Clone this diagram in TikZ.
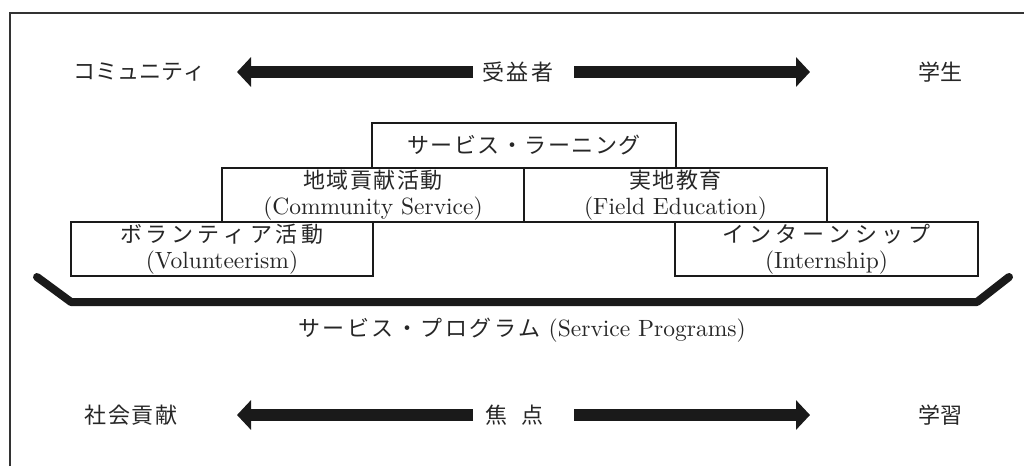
\documentclass[tikz,border=0pt]{standalone}
\usepackage{fontspec}
\setmainfont{lmroman10-regular.otf}
\newfontfamily\jp{Noto Sans CJK JP}
\usetikzlibrary{arrows.meta}
\definecolor{ink}{HTML}{1A1A1A}
\definecolor{txt}{HTML}{262626}
\definecolor{frame}{HTML}{333333}
% tracked Japanese text: \jpt{gap}{text}
\makeatletter
\def\trk@loop#1{\ifx#1\relax\unskip\else#1\hspace{\trk@gap}\expandafter\trk@loop\fi}
\newcommand{\jpt}[2]{{\jp\fontsize{22}{25}\selectfont\def\trk@gap{#1}\trk@loop#2\relax}}
\makeatother
\begin{document}
\begin{tikzpicture}[x=1pt,y=-1pt,
  lbl/.style={inner sep=0pt, text=txt, font=\fontsize{22}{25}\selectfont, align=center},
  box/.style={draw=ink, line width=1.8pt, inner sep=0pt, text=txt,
     font=\fontsize{23.5}{26}\selectfont, align=center},
  fat/.style={draw=ink, line width=12pt, -{Triangle[length=14pt,width=29pt]}},
]
\useasboundingbox (0,0) rectangle (1024,466);
% frame (only top and left visible)
\draw[frame, line width=2pt] (10,466) -- (10,13) -- (1024,13);

% top row
\node[lbl] (com) at (139,72) {\jpt{0pt}{コミュニティ}};
\node[lbl] (ben) at (518,72) {\jpt{3pt}{受益者}};
\node[lbl] (stu) at (940,72) {\jpt{0pt}{学生}};
\coordinate (a1s) at (473,72); \coordinate (a1e) at (237,72);
\coordinate (a2s) at (574,72); \coordinate (a2e) at (810,72);
\draw[fat] (a1s) -- (a1e);
\draw[fat] (a2s) -- (a2e);

% boxes
\node[box, minimum width=304pt, minimum height=45pt] (sl) at (524,145.5) {\jpt{1.5pt}{サービス・ラーニング}};
\node[box, minimum width=302pt, minimum height=54pt] (cs) at (373,195) {\jpt{1.4pt}{地域貢献活動}\\(Community Service)};
\node[box, minimum width=303pt, minimum height=54pt] (fe) at (675.5,195) {\jpt{1.4pt}{実地教育}\\(Field Education)};
\node[box, minimum width=302pt, minimum height=54pt] (vo) at (222,249) {\jpt{4pt}{ボランティア活動}\\(Volunteerism)};
\node[box, minimum width=303pt, minimum height=54pt] (in) at (826.5,249) {\jpt{4.5pt}{インターンシップ}\\(Internship)};

% bracket
\coordinate (b1) at (37,277); \coordinate (b2) at (71,302);
\coordinate (b3) at (977,302); \coordinate (b4) at (1009,277);
\draw[ink, line width=8pt, line cap=round, line join=bevel] (b1) -- (b2) -- (b3) -- (b4);
\node[lbl, font=\fontsize{23.5}{25}\selectfont] (sp) at (522,330) {\jpt{2.5pt}{サービス・プログラム}\hspace{8pt}(Service Programs)};

% bottom row
\node[lbl] (soc) at (131,415) {\jpt{1.7pt}{社会貢献}};
\node[lbl] (foc) at (514,415) {\jpt{14pt}{焦点}};
\node[lbl] (lea) at (940,415) {\jpt{0pt}{学習}};
\coordinate (c1s) at (473,415); \coordinate (c1e) at (237,415);
\coordinate (c2s) at (574,415); \coordinate (c2e) at (810,415);
\draw[fat] (c1s) -- (c1e);
\draw[fat] (c2s) -- (c2e);
\end{tikzpicture}
\end{document}
